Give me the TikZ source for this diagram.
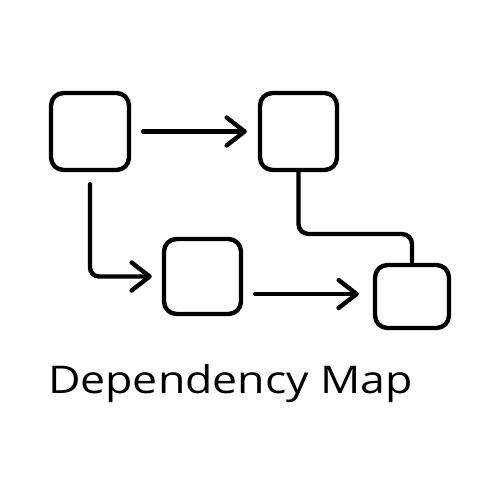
\documentclass[tikz,border=0pt]{standalone}
\usepackage{fontspec}
\usepackage{graphicx}
\setmainfont{Open Sans}
\usetikzlibrary{arrows.meta}
\tikzset{
  box/.style={draw=black, line width=2.5pt, rounded corners=0.25cm, inner sep=0pt},
  arr/.style={draw=black, line width=2.5pt, line cap=round, -{Straight Barb[length=0.36cm, width=0.56cm, line cap=round, line join=round]}},
  link/.style={draw=black, line width=2.5pt, line cap=round, rounded corners=0.2cm}
}
\begin{document}
\begin{tikzpicture}[x=0.02cm,y=-0.02cm]
\useasboundingbox[fill=white] (0,0) rectangle (500,500);
\node[box, minimum width=1.56cm, minimum height=1.54cm] (b1) at (90,131.5) {};
\node[box, minimum width=1.54cm, minimum height=1.54cm] (b2) at (298.5,131.5) {};
\node[box, minimum width=1.54cm, minimum height=1.50cm] (b3) at (202.5,276.5) {};
\node[box, minimum width=1.48cm, minimum height=1.26cm] (b4) at (412,296.5) {};
\coordinate (a3y) at (0,294);
\coordinate (c4y) at (0,234);
\draw[arr, shorten <=0.24cm, shorten >=0.22cm] (b1.east) -- (b2.west);
\draw[arr, shorten <=0.24cm, shorten >=0.2cm, rounded corners=0.18cm] (b1.south) |- (b3.west);
\draw[arr, shorten <=0.24cm, shorten >=0.28cm] (b3.east |- a3y) -- (b4.west |- a3y);
\draw[link] (b2.south) -- (b2.south |- c4y) -| (b4.north);
\node[anchor=base, inner sep=0pt] (title) at (230.5,393) {\resizebox{7.3cm}{0.58cm}{\fontsize{22pt}{26pt}\selectfont Dependency Map}};
\end{tikzpicture}
\end{document}
